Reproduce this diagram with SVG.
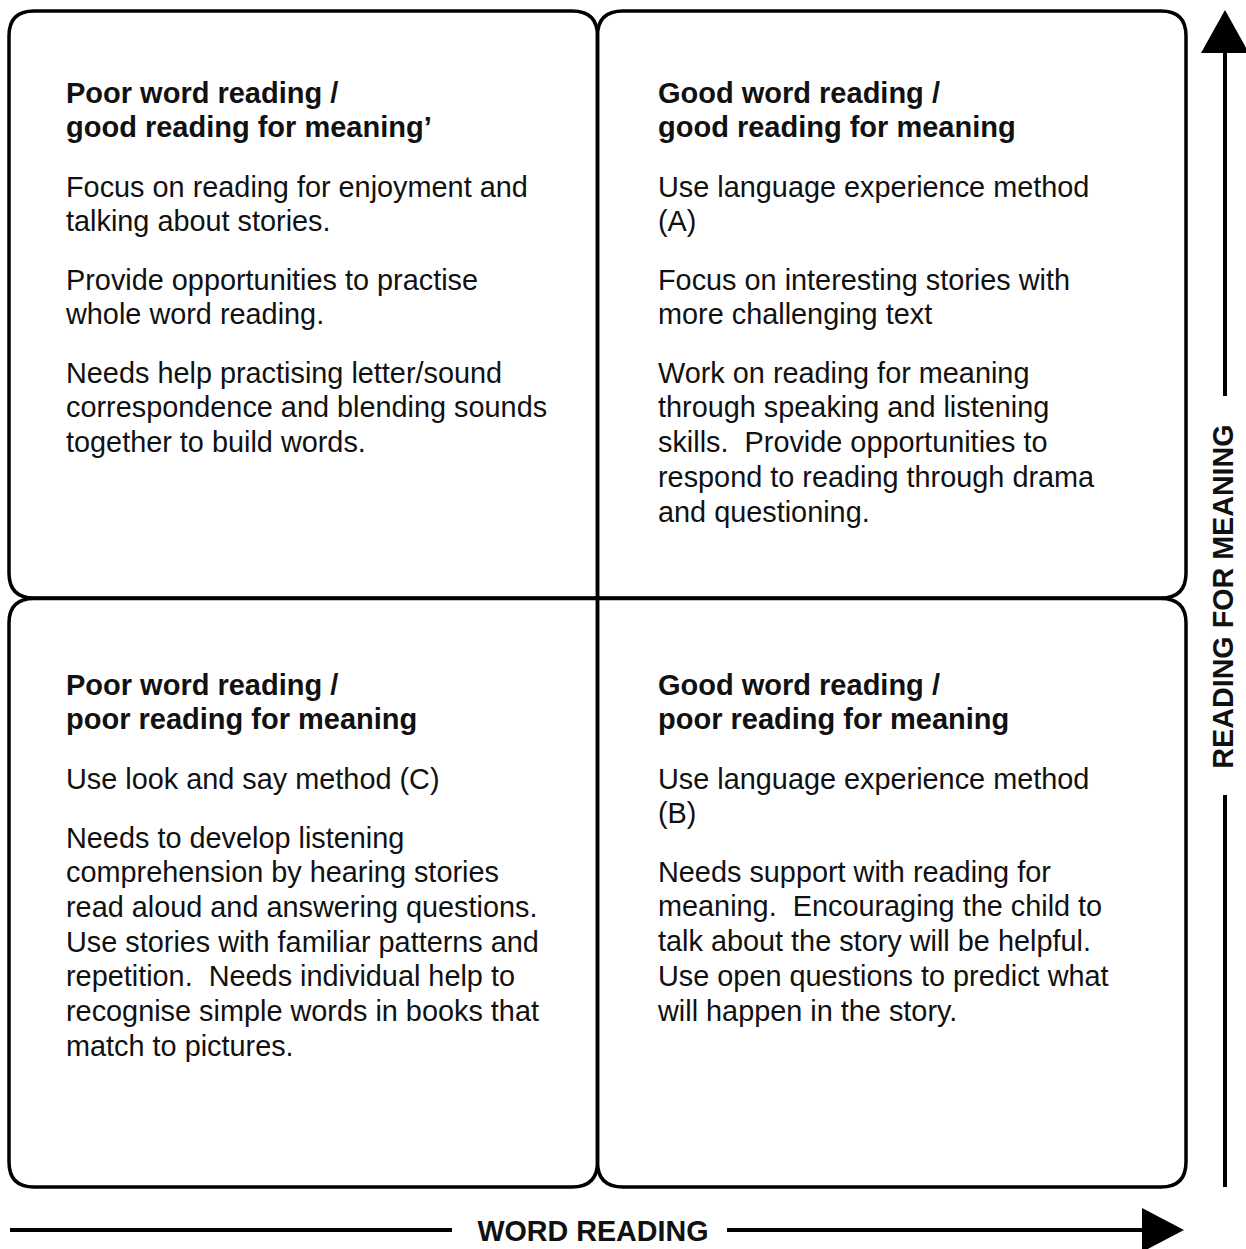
<svg xmlns="http://www.w3.org/2000/svg" width="1246" height="1249" viewBox="0 0 1246 1249">
<style>
.box{fill:none;stroke:#000;stroke-width:3.5;stroke-linejoin:miter}
.ax{stroke:#000;stroke-width:4;fill:none}
.ah{fill:#000}
text{font-family:"Liberation Sans",Arial,sans-serif;font-size:28.85px;fill:#111}
.b{font-weight:bold;font-size:29px}
.lab{font-weight:bold;font-size:28.7px;fill:#111}
</style>
<rect width="1246" height="1249" fill="#fff"/>
<g id="q-tl">
<path class="box" d="M300,11 L572,11 Q597.5,11 597.5,36 L597.5,598 L34,598 Q9,598 9,573 L9,36 Q9,11 34,11 Z"/>
<text x="66" y="102.5"><tspan class="b">Poor word reading /</tspan><tspan class="b" x="66" dy="34.7">good reading for meaning’</tspan><tspan x="66" dy="59.5">Focus on reading for enjoyment and</tspan><tspan x="66" dy="34.7">talking about stories.</tspan><tspan x="66" dy="58.3">Provide opportunities to practise</tspan><tspan x="66" dy="34.7">whole word reading.</tspan><tspan x="66" dy="58.3">Needs help practising letter/sound</tspan><tspan x="66" dy="34.7">correspondence and blending sounds</tspan><tspan x="66" dy="34.7">together to build words.</tspan></text>
</g>
<g id="q-tr">
<path class="box" d="M900,11 L1161,11 Q1186,11 1186,36 L1186,573 Q1186,598 1161,598 L597.5,598 L597.5,36 Q597.5,11 623,11 Z"/>
<text x="658" y="102.5"><tspan class="b">Good word reading /</tspan><tspan class="b" x="658" dy="34.7">good reading for meaning</tspan><tspan x="658" dy="59.5">Use language experience method</tspan><tspan x="658" dy="34.7">(A)</tspan><tspan x="658" dy="58.3">Focus on interesting stories with</tspan><tspan x="658" dy="34.7">more challenging text</tspan><tspan x="658" dy="58.3">Work on reading for meaning</tspan><tspan x="658" dy="34.7">through speaking and listening</tspan><tspan x="658" dy="34.7">skills.&#160; Provide opportunities to</tspan><tspan x="658" dy="34.7">respond to reading through drama</tspan><tspan x="658" dy="34.7">and questioning.</tspan></text>
</g>
<g id="q-bl">
<path class="box" d="M300,598.5 L597.5,598.5 L597.5,1162 Q597.5,1187 572,1187 L34,1187 Q9,1187 9,1162 L9,623 Q9,598.5 34,598.5 Z"/>
<text x="66" y="694.5"><tspan class="b">Poor word reading /</tspan><tspan class="b" x="66" dy="34.7">poor reading for meaning</tspan><tspan x="66" dy="59.5">Use look and say method (C)</tspan><tspan x="66" dy="58.8">Needs to develop listening</tspan><tspan x="66" dy="34.7">comprehension by hearing stories</tspan><tspan x="66" dy="34.7">read aloud and answering questions.</tspan><tspan x="66" dy="34.7">Use stories with familiar patterns and</tspan><tspan x="66" dy="34.7">repetition.&#160; Needs individual help to</tspan><tspan x="66" dy="34.7">recognise simple words in books that</tspan><tspan x="66" dy="34.7">match to pictures.</tspan></text>
</g>
<g id="q-br">
<path class="box" d="M900,598.5 L1161,598.5 Q1186,598.5 1186,623 L1186,1162 Q1186,1187 1161,1187 L623,1187 Q597.5,1187 597.5,1162 L597.5,598.5 Z"/>
<text x="658" y="694.5"><tspan class="b">Good word reading /</tspan><tspan class="b" x="658" dy="34.7">poor reading for meaning</tspan><tspan x="658" dy="59.5">Use language experience method</tspan><tspan x="658" dy="34.7">(B)</tspan><tspan x="658" dy="58.3">Needs support with reading for</tspan><tspan x="658" dy="34.7">meaning.&#160; Encouraging the child to</tspan><tspan x="658" dy="34.7">talk about the story will be helpful.</tspan><tspan x="658" dy="34.7">Use open questions to predict what</tspan><tspan x="658" dy="34.7">will happen in the story.</tspan></text>
</g>
<g id="connectors">
<line class="ax" x1="1225" y1="50" x2="1225" y2="396"/>
<line class="ax" x1="1225" y1="795" x2="1225" y2="1187"/>
<polygon class="ah" points="1225,10 1201,53 1249,53"/>
<line class="ax" x1="10" y1="1230" x2="452" y2="1230"/>
<line class="ax" x1="727" y1="1230" x2="1145" y2="1230"/>
<polygon class="ah" points="1142,1208 1142,1252 1184,1230"/>
</g>
<g id="axis-labels">
<text class="lab" x="593" y="1240.5" text-anchor="middle">WORD READING</text>
<text class="lab" transform="translate(1233,596.5) rotate(-90)" text-anchor="middle">READING FOR MEANING</text>
</g>
</svg>
